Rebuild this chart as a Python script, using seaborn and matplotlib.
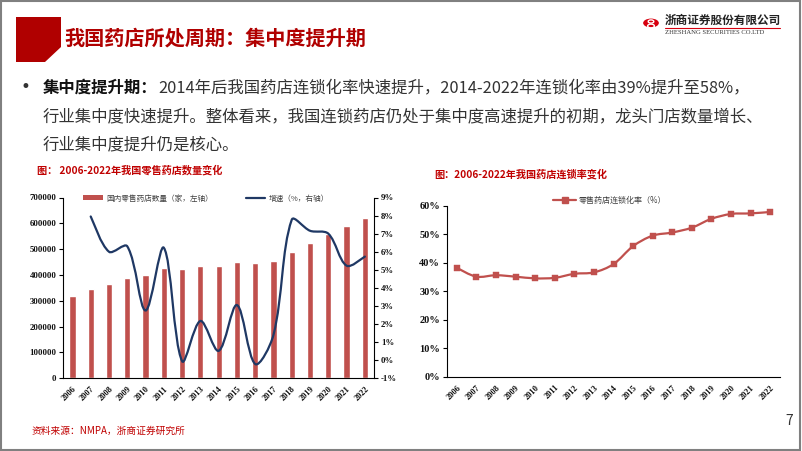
import numpy as np
import pandas as pd
import matplotlib
matplotlib.use("Agg")
import matplotlib.pyplot as plt
import seaborn as sns
from matplotlib.path import Path
from matplotlib.patches import PathPatch, Polygon, Rectangle, Circle, Patch
from matplotlib.lines import Line2D

# ---------------- data ----------------
years = [str(y) for y in range(2006, 2023)]
store_counts = [320000, 346000, 366000, 388000, 400000, 426000, 423000, 434000, 436000,
                449000, 446000, 454000, 489000, 524000, 560000, 590000, 622000]
growth_years = years[1:]
growth_pct = [7.95, 6.0, 6.3, 2.75, 6.22, -0.05, 2.17, 0.52, 3.05, -0.21, 1.4,
              7.77, 7.16, 7.0, 5.23, 5.73]
chain_rate = [38.2, 35.1, 35.6, 35.1, 34.5, 34.7, 36.1, 36.6, 39.5, 45.8, 49.5,
              50.6, 52.3, 55.4, 57.1, 57.3, 57.8]

left_yticks = [0, 100000, 200000, 300000, 400000, 500000, 600000, 700000]
right_yticks = [-1, 0, 1, 2, 3, 4, 5, 6, 7, 8, 9]
chain_yticks = [0, 10, 20, 30, 40, 50, 60]

bar_label = "国内零售药店数量（家，左轴）"
line_label = "增速（%，右轴）"
chain_label = "零售药店连锁化率（%）"

# ---------------- style ----------------
sns.set_theme(style="white")
plt.rcParams["font.family"] = ["Noto Sans CJK SC", "DejaVu Sans"]
plt.rcParams["axes.unicode_minus"] = False

W, H = 802, 451
BAR_RED = "#C0504D"
NAVY = "#1F3864"
DARK_RED = "#B00000"
TXT = "#333333"
NUMFONT = dict(fontfamily="Liberation Serif", fontweight="bold")


def fx(x):
    return x / W


def fy(y):
    return 1 - y / H


def smooth_path(xs, ys, sx, sy, t=2.0 / 3.0):
    """Chord-length aware cubic Bezier through the data points (Excel-like smoothing).
    sx, sy: pixel size of one data unit, used to measure chord lengths on screen."""
    pts = np.column_stack([xs, ys]).astype(float)
    scr = pts * np.array([sx, sy])
    n = len(pts)
    d = np.hypot(*(np.diff(scr, axis=0).T))  # segment lengths on screen
    verts = [pts[0]]
    codes = [Path.MOVETO]
    for i in range(n - 1):
        p1, p2 = pts[i], pts[i + 1]
        if i > 0:
            w = d[i] / (d[i - 1] + d[i])
            c1 = p1 + (p2 - pts[i - 1]) * w * t / 2.0 * 1.0
        else:
            c1 = p1 + (p2 - p1) * t / 2.0 * 0.5
        if i + 2 < n:
            w = d[i] / (d[i] + d[i + 1])
            c2 = p2 - (pts[i + 2] - p1) * w * t / 2.0
        else:
            c2 = p2 - (p2 - p1) * t / 2.0 * 0.5
        verts += [c1, c2, p2]
        codes += [Path.CURVE4] * 3
    return Path(verts, codes)


fig = plt.figure(figsize=(W / 100, H / 100), dpi=100)
fig.patch.set_facecolor("white")

# ---------------- slide decorations ----------------
fig.add_artist(Rectangle((0.001, 0.002), 0.997, 0.996, transform=fig.transFigure,
                         fill=False, edgecolor="#808080", linewidth=1.5))
fig.add_artist(Polygon([(fx(16), fy(17)), (fx(61), fy(17)), (fx(61), fy(47)),
                        (fx(45), fy(62)), (fx(16), fy(62))],
                       closed=True, transform=fig.transFigure,
                       facecolor=DARK_RED, edgecolor="none"))
fig.text(fx(64), fy(38), "我国药店所处周期：集中度提升期", fontsize=14.5,
         fontweight="bold", color=DARK_RED, va="center", ha="left")

# logo
fig.add_artist(Circle((fx(651), fy(23)), 0.0098, transform=fig.transFigure,
                      facecolor="#D7000F", edgecolor="none"))
fig.add_artist(Circle((fx(651), fy(21.5)), 0.0035, transform=fig.transFigure,
                      facecolor="none", edgecolor="white", linewidth=1.0))
fig.add_artist(Circle((fx(651), fy(26)), 0.0042, transform=fig.transFigure,
                      facecolor="none", edgecolor="white", linewidth=1.0))
fig.text(fx(665), fy(20), "浙商证券股份有限公司", fontsize=8.4, fontweight="bold",
         color="#222222", va="center", ha="left")
fig.add_artist(Line2D([fx(665), fx(780)], [fy(28), fy(28)], transform=fig.transFigure,
                      color="#D7000F", linewidth=0.8))
fig.text(fx(665), fy(33), "ZHESHANG SECURITIES CO.LTD", fontsize=4.8,
         family="Liberation Serif", color="#333333", va="center", ha="left")

# bullet text
fig.text(fx(25), fy(87.5), "•", fontsize=12, color=TXT, va="center", ha="center",
         family="DejaVu Sans")
fig.text(fx(43), fy(87.5), "集中度提升期：", fontsize=11.8, fontweight="bold",
         color="#111111", va="center", ha="left")
fig.text(fx(158), fy(87.5),
         "2014年后我国药店连锁化率快速提升，2014-2022年连锁化率由39%提升至58%，",
         fontsize=11.8, color=TXT, va="center", ha="left")
fig.text(fx(43), fy(116.7),
         "行业集中度快速提升。整体看来，我国连锁药店仍处于集中度高速提升的初期，龙头门店数量增长、",
         fontsize=11.8, color=TXT, va="center", ha="left")
fig.text(fx(43), fy(145), "行业集中度提升仍是核心。", fontsize=11.8, color=TXT,
         va="center", ha="left")

# chart titles, source, page number
fig.text(fx(37), fy(170.5), "图： 2006-2022年我国零售药店数量变化", fontsize=7.3,
         fontweight="bold", color="#C00000", va="center", ha="left")
fig.text(fx(434), fy(174), "图：2006-2022年我国药店连锁率变化", fontsize=7.3,
         fontweight="bold", color="#C00000", va="center", ha="left")
fig.text(fx(32), fy(431), "资料来源：NMPA，浙商证券研究所", fontsize=7,
         color="#C00000", va="center", ha="left")
fig.text(fx(789), fy(421), "7", fontsize=10, color=TXT, va="center", ha="center")

# ---------------- left chart ----------------
L_x0, L_x1, L_y0, L_y1 = 63.3, 374.0, 197.5, 378.3
ax = fig.add_axes([fx(L_x0), fy(L_y1), (L_x1 - L_x0) / W, (L_y1 - L_y0) / H])
df_bar = pd.DataFrame({"year": years, "stores": store_counts})
sns.barplot(data=df_bar, x="year", y="stores", color=BAR_RED, saturation=1,
            width=0.34, ax=ax)
ax.set_xlim(-0.5, len(years) - 0.5)
ax.set_ylim(0, 700000)
ax.set_xlabel("")
ax.set_ylabel("")
ax.set_yticks(left_yticks, [str(v) for v in left_yticks], fontsize=6.3, **NUMFONT)
ax.set_xticks(np.arange(len(years)), years, fontsize=6, **NUMFONT)
ax.set_xticks(np.arange(-0.5, len(years), 1.0), minor=True)
for lbl in ax.get_xticklabels():
    lbl.set_rotation(45)
    lbl.set_ha("right")
    lbl.set_va("top")
    lbl.set_rotation_mode("anchor")
ax.tick_params(axis="x", which="major", length=0, pad=5, colors="#111111")
ax.tick_params(axis="x", which="minor", length=3, width=0.8, color="black", direction="out")
ax.tick_params(axis="y", length=3, width=0.8, color="black", direction="out", pad=2,
               colors="#111111", left=True)
for s in ["top", "right"]:
    ax.spines[s].set_visible(False)
for s in ["left", "bottom"]:
    ax.spines[s].set_color("black")
    ax.spines[s].set_linewidth(0.8)

ax2 = ax.twinx()
ax2.set_ylim(-1, 9)
ax2.set_yticks(right_yticks, [f"{v}%" for v in right_yticks], fontsize=6.3, **NUMFONT)
ax2.tick_params(axis="y", length=3, width=0.8, color="black", direction="out", pad=2,
                colors="#111111", right=True)
for s in ["top", "left", "bottom"]:
    ax2.spines[s].set_visible(False)
ax2.spines["right"].set_color("black")
ax2.spines["right"].set_linewidth(0.8)
gx = [years.index(y) for y in growth_years]
sx_l = (L_x1 - L_x0) / len(years)
sy_l = (L_y1 - L_y0) / 10.0
ax2.add_patch(PathPatch(smooth_path(gx, growth_pct, sx_l, sy_l), transform=ax2.transData,
                        fill=False, edgecolor=NAVY, linewidth=1.6, capstyle="round"))
ax2.set_xlim(-0.5, len(years) - 0.5)

handles = [Patch(facecolor=BAR_RED, edgecolor="none"),
           Line2D([], [], color=NAVY, linewidth=1.6)]
fig.legend(handles, [bar_label, line_label], loc="center left",
           bbox_to_anchor=(fx(83), fy(198.5)), bbox_transform=fig.transFigure,
           ncol=2, frameon=False, fontsize=5.5, handlelength=2.6, handleheight=0.6,
           handletextpad=0.5, columnspacing=4.2, borderpad=0, borderaxespad=0,
           labelcolor="#404040")

# ---------------- right chart ----------------
R_x0, R_x1, R_y0, R_y1 = 447.0, 780.0, 205.7, 376.7
bx = fig.add_axes([fx(R_x0), fy(R_y1), (R_x1 - R_x0) / W, (R_y1 - R_y0) / H])
cx = np.arange(len(years))
sx_r = (R_x1 - R_x0) / len(years)
sy_r = (R_y1 - R_y0) / 60.0
bx.add_patch(PathPatch(smooth_path(cx, chain_rate, sx_r, sy_r), transform=bx.transData,
                       fill=False, edgecolor=BAR_RED, linewidth=1.6))
sns.scatterplot(x=cx, y=chain_rate, marker="s", s=16, color=BAR_RED,
                edgecolor=BAR_RED, linewidth=0.3, ax=bx, zorder=3, legend=False)
bx.set_xlim(-0.5, len(years) - 0.5)
bx.set_ylim(0, 60)
bx.set_xlabel("")
bx.set_ylabel("")
bx.set_yticks(chain_yticks, [f"{v}%" for v in chain_yticks], fontsize=7.5, **NUMFONT)
bx.set_xticks(cx, years, fontsize=6, **NUMFONT)
bx.set_xticks(np.arange(-0.5, len(years), 1.0), minor=True)
for lbl in bx.get_xticklabels():
    lbl.set_rotation(45)
    lbl.set_ha("right")
    lbl.set_va("top")
    lbl.set_rotation_mode("anchor")
bx.tick_params(axis="x", which="major", length=0, pad=5, colors="#111111")
bx.tick_params(axis="x", which="minor", length=3, width=0.8, color="black", direction="out")
bx.tick_params(axis="y", length=3, width=0.8, color="black", direction="out", pad=2,
               colors="#111111", left=True)
for s in ["top", "right"]:
    bx.spines[s].set_visible(False)
for s in ["left", "bottom"]:
    bx.spines[s].set_color("black")
    bx.spines[s].set_linewidth(0.8)

fig.legend([Line2D([], [], color=BAR_RED, linewidth=1.6, marker="s", markersize=4)],
           [chain_label], loc="center left", bbox_to_anchor=(fx(553), fy(200)),
           bbox_transform=fig.transFigure, frameon=False, fontsize=5.8,
           handlelength=2.9, handletextpad=0.3, borderpad=0, borderaxespad=0,
           labelcolor="#404040")

fig.savefig("out.png", dpi=100)
